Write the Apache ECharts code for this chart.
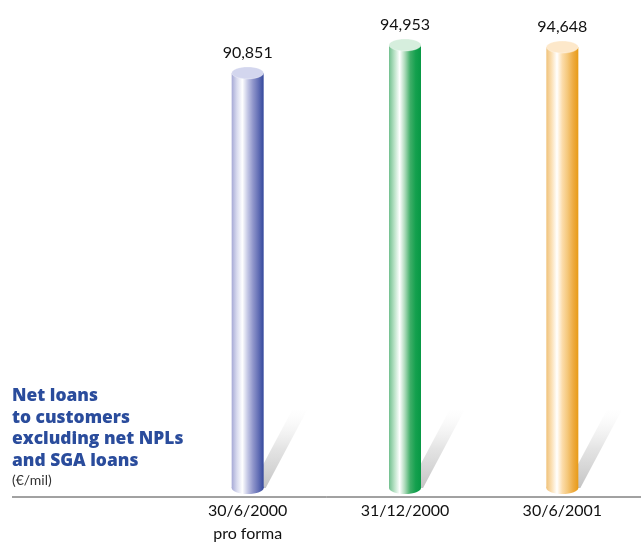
<!DOCTYPE html>
<html><head><meta charset="utf-8">
<script src="https://cdn.jsdelivr.net/npm/echarts@6/dist/echarts.min.js"></script>
<style>html,body{margin:0;padding:0;background:#fff}#c{width:641px;height:545px}</style>
</head><body><div id="c"></div>
<script>
const categories = ['30/6/2000\npro forma', '31/12/2000', '30/6/2001'];
const values = [90851, 94953, 94648];
const valueLabels = ['90,851', '94,953', '94,648'];
const titleLines = ['Net loans', 'to customers', 'excluding net NPLs', 'and SGA loans'];
const unitText = '(€/mil)';

const yMin = 29800, yMax = 101570;
const palettes = [
  {stops:['#a7aad6','#d9dbef','#ffffff','#c4c7e5','#9096cb','#6470b6','#34489c'], top:'#d3d6ee'},
  {stops:['#72c08f','#b9e2c6','#ffffff','#a9d9b7','#3fae68','#14a04e','#079844'], top:'#d6eedd'},
  {stops:['#f0c27a','#fbe0b5','#ffffff','#fcdcaa','#f4c77a','#eeac43','#e89b16'], top:'#fde8ca'}
];

function grad(stops){
  const n = stops.length;
  return {type:'linear', x:0, y:0, x2:1, y2:0,
    colorStops: stops.map((c,i)=>({offset: i/(n-1), color:c}))};
}

const chart = echarts.init(document.getElementById('c'), null, {renderer:'canvas'});
chart.setOption({
  animation:false,
  backgroundColor:'#fff',
  grid:{left:169, right:-22, top:0, bottom:48},
  xAxis:{type:'category', data:categories,
    axisLine:{show:false}, axisTick:{show:false},
    axisLabel:{margin:11, fontFamily:'Lato', fontSize:16, color:'#111', lineHeight:23}},
  yAxis:{type:'value', min:yMin, max:yMax, show:false},
  graphic:[
    {type:'line', shape:{x1:12, y1:497, x2:641, y2:497}, style:{stroke:'#444', lineWidth:1}, z:1},
    {type:'text', left:12, top:385, style:{text:titleLines.join('\n'), font:'800 17.4px "Open Sans"', fill:'#2a4c9c', lineHeight:21.8}},
    {type:'text', left:12, top:473, style:{text:unitText, font:'14px Lato', fill:'#333'}}
  ],
  series:[{
    type:'custom',
    data: values.map((v,i)=>[i, v]),
    encode:{x:0, y:1},
    z:5,
    renderItem:function(params, api){
      const i = api.value(0);
      const pt = api.coord([i, api.value(1)]);
      const base = api.coord([i, yMin]);
      const cx = pt[0], top = pt[1], bot = base[1];
      const hw = 16, ry = 6;
      const p = palettes[i];
      return {type:'group', children:[
        {type:'polygon', z2:0, shape:{points:[[cx+3,bot],[cx+45,bot-79],[cx+60,bot-79],[cx+18,bot]]},
          style:{fill:{type:'linear',x:0,y:1,x2:0,y2:0,colorStops:[{offset:0,color:'rgba(170,170,170,0.7)'},{offset:0.5,color:'rgba(195,195,195,0.45)'},{offset:1,color:'rgba(230,230,230,0)'}]}}},
        {type:'ellipse', z2:1, shape:{cx:cx, cy:bot, rx:hw, ry:ry}, style:{fill:grad(p.stops)}},
        {type:'rect', z2:2, shape:{x:cx-hw, y:top, width:hw*2, height:bot-top}, style:{fill:grad(p.stops)}},
        {type:'ellipse', z2:3, shape:{cx:cx, cy:top, rx:hw, ry:ry}, style:{fill:p.top, stroke:'rgba(255,255,255,0.6)', lineWidth:0.5}},
        {type:'text', z2:4, style:{text:valueLabels[i], x:cx, y:top-20, align:'center', verticalAlign:'middle', font:'16px Lato', fill:'#111'}}
      ]};
    }
  }]
});
</script></body></html>
